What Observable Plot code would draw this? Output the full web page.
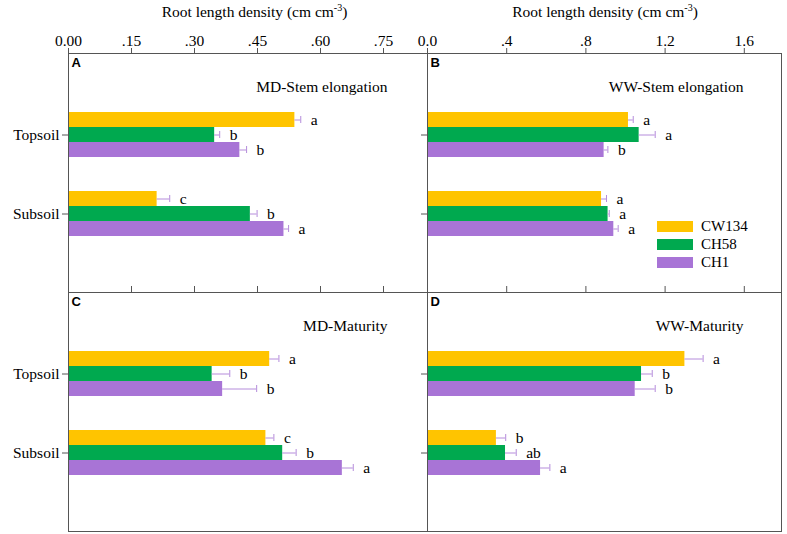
<!DOCTYPE html>
<html><head><meta charset="utf-8">
<script src="https://cdn.jsdelivr.net/npm/d3@7"></script>
<script src="https://cdn.jsdelivr.net/npm/@observablehq/plot@0.6"></script>
<style>
body{margin:0;background:#fff;}
#chart{position:relative;width:787px;height:534px;font-family:"Liberation Serif","Times New Roman",serif;color:#000;}
#chart svg{position:absolute;left:0;top:0;}
.axtitle{position:absolute;top:3px;font-size:15.5px;transform:translateX(-50%);white-space:nowrap;line-height:18px;}
.axtitle sup{font-size:10px;vertical-align:6px;line-height:0;}
.legend{position:absolute;left:657px;top:217px;font-size:15px;}
.legend div{display:flex;align-items:center;height:18px;}
.legend .sw{display:inline-block;width:36px;height:11px;margin-right:8px;}
</style></head><body><div id="chart"></div>
<script>
// ---- data ----
const layers = ["Topsoil", "Subsoil"];
const cultivars = ["CW134", "CH58", "CH1"];
const colors = ["#FFC400", "#00A94F", "#A874D6"];
const axisTitle = "Root length density (cm cm";
const axisTitleSup = "-3";
const leftTicks = [0, 0.15, 0.30, 0.45, 0.60, 0.75];
const leftTickLabels = ["0.00", ".15", ".30", ".45", ".60", ".75"];
const rightTicks = [0, 0.4, 0.8, 1.2, 1.6];
const rightTickLabels = ["0.0", ".4", ".8", "1.2", "1.6"];
// order: Topsoil CW134, CH58, CH1, Subsoil CW134, CH58, CH1
const mdStemValues  = [0.539, 0.348, 0.408, 0.211, 0.433, 0.513];
const mdStemErrors  = [0.014, 0.012, 0.016, 0.030, 0.016, 0.011];
const mdStemLetters = ["a", "b", "b", "c", "b", "a"];
const wwStemValues  = [1.015, 1.069, 0.892, 0.879, 0.912, 0.941];
const wwStemErrors  = [0.024, 0.081, 0.019, 0.025, 0.006, 0.022];
const wwStemLetters = ["a", "a", "b", "a", "a", "a"];
const mdMatValues   = [0.479, 0.342, 0.367, 0.470, 0.510, 0.652];
const mdMatErrors   = [0.022, 0.042, 0.081, 0.019, 0.032, 0.026];
const mdMatLetters  = ["a", "b", "b", "c", "b", "a"];
const wwMatValues   = [1.300, 1.081, 1.049, 0.348, 0.394, 0.571];
const wwMatErrors   = [0.092, 0.054, 0.101, 0.047, 0.054, 0.047];
const wwMatLetters  = ["a", "b", "b", "b", "ab", "a"];

// ---- drawing ----
const W = 787, H = 534;
const lineColor = "#555";
const errColor = "#B58CDB";
const serif = "Liberation Serif, Times New Roman, serif";
const chart = document.getElementById("chart");

function panel(o) {
  const data = [];
  layers.forEach((l, i) => cultivars.forEach((c, j) => {
    const k = i * 3 + j;
    data.push({layer: l, cultivar: c, j, value: o.values[k], err: o.errors[k], letter: o.letters[k]});
  }));
  const marks = [];
  cultivars.forEach((c, j) => {
    const d = data.filter(r => r.cultivar === c);
    marks.push(Plot.barX(d, {x: "value", y: "layer", fill: colors[j], insetTop: 15 * j, insetBottom: 15 * (2 - j)}));
    marks.push(Plot.ruleY(d, {y: "layer", x1: "value", x2: r => r.value + r.err, dy: (j - 1) * 15, stroke: errColor}));
    marks.push(Plot.tickX(d, {x: r => r.value + r.err, y: "layer", insetTop: 15 * j + 4, insetBottom: 15 * (2 - j) + 4, stroke: errColor}));
    marks.push(Plot.text(d, {x: r => r.value + r.err, y: "layer", text: "letter", dy: (j - 1) * 15, dx: 10, textAnchor: "start", fontSize: 15.5}));
  });
  if (o.bottomTicks) marks.push(Plot.tickX(o.ticks, {x: d => d, insetTop: (H - o.mt - o.mb) - 6, stroke: lineColor}));
  marks.push(Plot.frame({stroke: lineColor}));
  marks.push(Plot.text([o.tag], {text: d => d, frameAnchor: "top-left", dx: 3, dy: 4, fontFamily: "Liberation Sans, Arial, sans-serif", fontWeight: "bold", fontSize: 13}));
  marks.push(Plot.text([o.title], {text: d => d, frameAnchor: "top-right", dx: -o.titleDx, dy: 27, fontSize: 15.5}));
  const svg = Plot.plot({
    width: W, height: H,
    marginLeft: o.ml, marginRight: o.mr, marginTop: o.mt, marginBottom: o.mb,
    style: {background: "transparent", overflow: "visible", fontFamily: serif, fontSize: "15.5px", color: "#000"},
    x: {domain: [0, o.xMax], axis: o.topAxis ? "top" : null, ticks: o.ticks,
        tickFormat: d => o.tickLabels[o.ticks.indexOf(d)], tickSize: 6, tickPadding: 2, label: null},
    y: {domain: layers, paddingInner: 0.4304, paddingOuter: 0.7278, align: 0.51, axis: "left",
        tickSize: 6, tickPadding: 3, label: null, tickFormat: o.showY ? (d => d) : (() => "")},
    marks
  });
  svg.querySelectorAll("[aria-label$='axis tick'] path, [aria-label$='axis tick']").forEach(e => e.setAttribute("stroke", lineColor));
  chart.appendChild(svg);
}

const xL0 = 68, xMid = 427, xR = 781, yTop = 53, yMid = 292, yBot = 531;
panel({values: mdStemValues, errors: mdStemErrors, letters: mdStemLetters, title: "MD-Stem elongation", tag: "A", titleDx: 40,
  xMax: (xMid - xL0) / 420, ticks: leftTicks, tickLabels: leftTickLabels,
  ml: xL0, mr: W - xMid, mt: yTop, mb: H - yMid, showY: true, topAxis: true, bottomTicks: true});
panel({values: wwStemValues, errors: wwStemErrors, letters: wwStemLetters, title: "WW-Stem elongation", tag: "B", titleDx: 38,
  xMax: (xR - xMid) / 198, ticks: rightTicks, tickLabels: rightTickLabels,
  ml: xMid, mr: W - xR, mt: yTop, mb: H - yMid, showY: false, topAxis: true, bottomTicks: true});
panel({values: mdMatValues, errors: mdMatErrors, letters: mdMatLetters, title: "MD-Maturity", tag: "C", titleDx: 40,
  xMax: (xMid - xL0) / 420, ticks: leftTicks, tickLabels: leftTickLabels,
  ml: xL0, mr: W - xMid, mt: yMid, mb: H - yBot, showY: true, topAxis: false, bottomTicks: false});
panel({values: wwMatValues, errors: wwMatErrors, letters: wwMatLetters, title: "WW-Maturity", tag: "D", titleDx: 38,
  xMax: (xR - xMid) / 198, ticks: rightTicks, tickLabels: rightTickLabels,
  ml: xMid, mr: W - xR, mt: yMid, mb: H - yBot, showY: false, topAxis: false, bottomTicks: false});

// axis titles
[[(xL0 + xMid) / 2 + 7], [(xMid + xR) / 2 + 1]].forEach(([cx]) => {
  const t = document.createElement("div");
  t.className = "axtitle";
  t.style.left = cx + "px";
  t.innerHTML = axisTitle + "<sup>" + axisTitleSup + "</sup>)";
  chart.appendChild(t);
});
// legend
const lg = document.createElement("div");
lg.className = "legend";
cultivars.forEach((c, j) => {
  const row = document.createElement("div");
  row.innerHTML = `<span class="sw" style="background:${colors[j]}"></span><span>${c}</span>`;
  lg.appendChild(row);
});
chart.appendChild(lg);
</script></body></html>
